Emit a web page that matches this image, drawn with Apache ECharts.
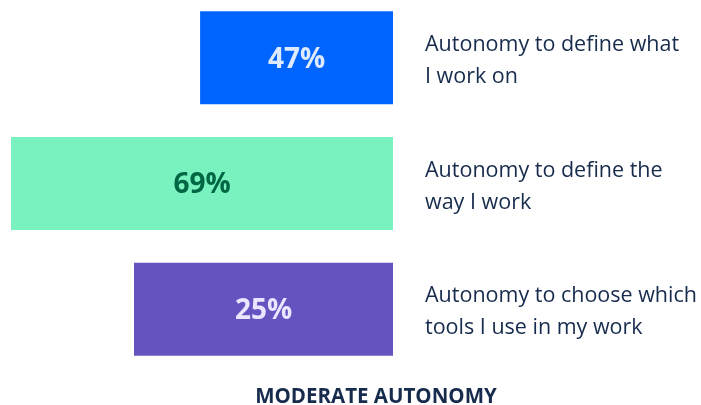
<!DOCTYPE html>
<html>
<head>
<meta charset="utf-8">
<script src="https://cdn.jsdelivr.net/npm/echarts@6/dist/echarts.min.js"></script>
<style>
  html, body { margin: 0; padding: 0; background: #fff; }
  #chart { width: 701px; height: 405px; }
</style>
</head>
<body>
<div id="chart"></div>
<script>
// categories, top to bottom
const categories = [
  'Autonomy to define what\nI work on',
  'Autonomy to define the\nway I work',
  'Autonomy to choose which\ntools I use in my work'
];
// percentages shown on the bars
const percentValues = [47, 69, 25];
// bar lengths as drawn in the picture (relative to the longest bar)
const barLengths = [50.5, 100, 67.8];
const barColors = ['#0065FF', '#79F2C0', '#6554C0'];
const labelColors = ['#DEEBFF', '#006644', '#EAE6FF'];

const chart = echarts.init(document.getElementById('chart'));

const option = {
  animation: false,
  title: {
    text: 'MODERATE AUTONOMY',
    left: 371,
    top: 382,
    textAlign: 'center',
    textStyle: { fontFamily: 'Open Sans', fontWeight: 'bold', fontSize: 20.5, color: '#172B4D' }
  },
  grid: { left: 11, width: 382, top: -5, height: 377, outerBoundsMode: 'none' },
  xAxis: {
    type: 'value',
    inverse: true,
    min: 0,
    max: 100,
    show: false
  },
  yAxis: {
    type: 'category',
    inverse: true,
    position: 'right',
    data: categories,
    axisLine: { show: false },
    axisTick: { show: false },
    axisLabel: {
      margin: 32,
      align: 'left',
      // small spacer line on top pushes the text block down a few pixels
      formatter: v => '{s| }\n' + v.split('\n').map(l => '{t|' + l + '}').join('\n'),
      rich: {
        s: { fontSize: 1, lineHeight: 6, height: 6 },
        t: {
          color: '#172B4D',
          fontFamily: 'Open Sans',
          fontSize: 21.5,
          lineHeight: 32
        }
      }
    }
  },
  series: [{
    type: 'bar',
    barWidth: 93,
    data: barLengths.map((v, i) => ({
      value: v,
      itemStyle: { color: barColors[i] },
      label: {
        show: true,
        position: 'inside',
        offset: [0, 2],
        formatter: percentValues[i] + '%',
        color: labelColors[i],
        fontFamily: 'Open Sans',
        fontWeight: 'bold',
        fontSize: 28
      }
    }))
  }]
};

chart.setOption(option);
</script>
</body>
</html>
